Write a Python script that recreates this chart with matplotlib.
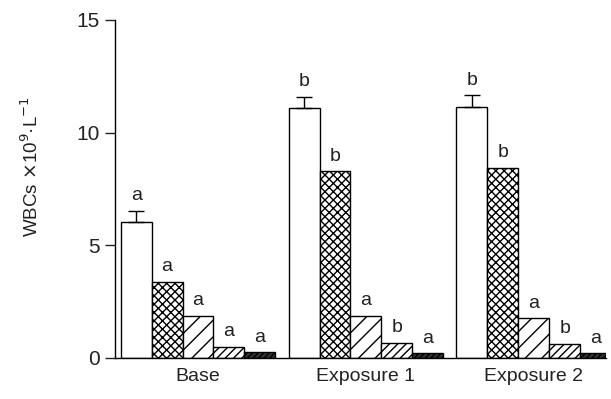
import numpy as np
import matplotlib
matplotlib.use("Agg")
import matplotlib.pyplot as plt

plt.rcParams['font.family'] = ['Liberation Sans', 'DejaVu Sans']
plt.rcParams['hatch.linewidth'] = 1.0

# data
groups = ["Base", "Exposure 1", "Exposure 2"]
white = [6.05, 11.1, 11.15]
white_err = [0.48, 0.5, 0.5]
cross = [3.37, 8.28, 8.43]
diag = [1.88, 1.85, 1.75]
dense = [0.5, 0.68, 0.63]
dark = [0.25, 0.2, 0.2]
letters = [["a", "a", "a", "a", "a"],
           ["b", "b", "a", "b", "a"],
           ["b", "b", "a", "b", "a"]]

series = [white, cross, diag, dense, dark]
styles = [dict(facecolor="white", hatch=None),
          dict(facecolor="white", hatch="xxxx"),
          dict(facecolor="white", hatch="//"),
          dict(facecolor="white", hatch="////"),
          dict(facecolor="#333333", hatch="//////")]

fig = plt.figure(figsize=(6.11, 3.99), dpi=100)
ax = fig.add_axes([0.188, 0.103, 0.804, 0.847])

pitch = 5.43
x0 = np.arange(len(groups)) * pitch
for j, (vals, st) in enumerate(zip(series, styles)):
    xs = x0 + j
    ax.bar(xs, vals, width=1.0, edgecolor="black", linewidth=1.0,
           facecolor=st["facecolor"], hatch=st["hatch"], zorder=2)
    if j == 0:
        ax.errorbar(xs, vals, yerr=[np.zeros(len(vals)), white_err], fmt="none",
                    ecolor="black", elinewidth=1.0, capsize=5.5, capthick=1.0, zorder=3)
    for g in range(len(groups)):
        top = vals[g] + (white_err[g] if j == 0 else 0)
        ax.text(xs[g], top + 0.3, letters[g][j], ha="center", va="bottom",
                fontsize=14, color="#222222")

ax.set_xlim(-0.69, 15.2)
ax.set_ylim(0, 15)
ax.set_yticks([0, 5, 10, 15])
ax.set_xticks(x0 + 2)
ax.set_xticklabels(groups)
ax.tick_params(axis="x", length=0, labelsize=14, pad=7, colors="#222222")
ax.tick_params(axis="y", length=7, width=1, labelsize=15, pad=4, colors="#222222")
for s in ["top", "right"]:
    ax.spines[s].set_visible(False)
ax.spines["left"].set_linewidth(1.0)
ax.spines["bottom"].set_linewidth(1.0)
ax.set_ylabel(r"WBCs $\times$10$^{9}$·L$^{-1}$", fontsize=13.5, color="#222222")
ax.yaxis.set_label_coords(-0.148, 0.565)

fig.savefig("out.png", dpi=100)
